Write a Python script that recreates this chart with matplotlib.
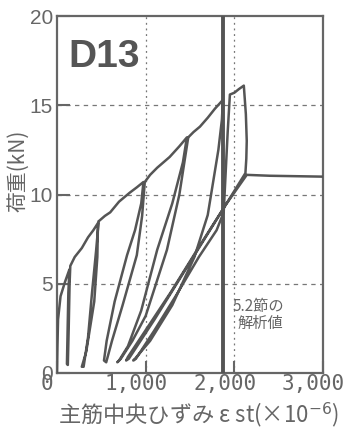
import matplotlib
matplotlib.use("Agg")
import matplotlib.pyplot as plt

# =====================================================
# DATA
# =====================================================
# initial loading, cycle 1 and cycle 2
strain_a = [0, 5, 12, 40, 90, 140,
            128, 118, 112, 122, 132, 142, 150,
            200, 280, 350, 410, 462,
            455, 420, 330, 280, 300, 350, 395, 440, 470]
load_a = [0, 1.5, 3.0, 4.3, 5.1, 5.8,
          4.5, 2.0, 0.5, 0.45, 2.5, 5.0, 6.0,
          6.5, 7.0, 7.6, 8.0, 8.4,
          6.5, 4.0, 1.2, 0.35, 0.35, 2.0, 4.5, 6.8, 8.5]

# cycles 3 and 4
strain_b = [470, 540, 600, 700, 820, 900, 975,
            950, 880, 790, 650, 560, 530,
            555, 620, 740, 900, 960, 990,
            1050, 1130, 1270, 1380, 1465,
            1420, 1300, 1130, 950, 800, 700, 680,
            720, 850, 1000, 1240, 1380, 1480]
load_b = [8.5, 8.8, 9.0, 9.6, 10.1, 10.4, 10.7,
          9.5, 8.0, 6.6, 4.0, 1.8, 0.7,
          0.6, 1.8, 3.8, 6.6, 8.8, 10.7,
          11.1, 11.5, 12.1, 12.7, 13.2,
          11.8, 9.5, 6.9, 3.5, 1.5, 0.7, 0.6,
          0.8, 1.8, 3.2, 6.9, 10.0, 13.2]

# cycle 5, last peak and the flat tail
strain_c = [1480, 1540, 1612, 1700, 1780, 1871,
            1860, 1820, 1700, 1550, 1300, 1050, 880, 860,
            890, 1100, 1350, 1600, 1800, 1880,
            1900, 1925, 1950, 2000, 2050, 2107,
            2130, 2140, 2135, 2125,
            1900, 1580, 1280, 1000, 800, 780,
            810, 1100, 1500, 1900, 2140,
            2400, 3000]
load_c = [13.2, 13.5, 13.8, 14.3, 14.8, 15.3,
          14.2, 12.5, 8.85, 6.5, 3.8, 1.8, 0.8, 0.7,
          0.8, 2.4, 4.4, 6.5, 8.0, 9.0,
          11.0, 13.5, 15.6, 15.7, 15.9, 16.1,
          14.5, 13.0, 12.0, 11.2,
          9.4, 6.9, 4.5, 2.4, 0.9, 0.7,
          0.8, 3.0, 6.2, 9.4, 11.1,
          11.05, 11.0]

yield_strain = 1870          # thick vertical line
grid_load = [5, 10, 15]
grid_strain = [1000, 2000]

x_ticks = [0, 1000, 2000, 3000]
x_tick_labels = ["0", "1,000", "2,000", "3,000"]
y_ticks = [0, 5, 10, 15, 20]
y_tick_labels = ["0", "5", "10", "15", "20"]

LINE = "#555555"
TEXT = "#666666"
JP = ["Noto Sans CJK JP", "DejaVu Sans"]

# =====================================================
# FIGURE
# =====================================================
fig = plt.figure(figsize=(3.52, 4.30), dpi=100)
ax = fig.add_axes([57 / 352, 1 - 373 / 430, 266 / 352, 357 / 430])
ax.set_xlim(0, 3000)
ax.set_ylim(0, 20)

for y in grid_load:
    ax.axhline(y, color="#777777", lw=0.9, dashes=(3.5, 3.5), zorder=1)
for x in grid_strain:
    ax.axvline(x, color="#777777", lw=0.9, dashes=(1.5, 3), zorder=1)

ax.axvline(yield_strain, color=LINE, lw=2.8, zorder=3)

for xs, ys in [(strain_a, load_a), (strain_b, load_b), (strain_c, load_c)]:
    ax.plot(xs, ys, color=LINE, lw=1.8, solid_joinstyle="round",
            solid_capstyle="round", zorder=4)

for s in ax.spines.values():
    s.set_color(TEXT)
    s.set_linewidth(1.6)

ax.set_yticks(y_ticks)
ax.set_yticklabels(y_tick_labels, fontsize=15, family="Liberation Sans",
                   color=TEXT)
ax.set_xticks(x_ticks)
ax.set_xticklabels([])
ax.tick_params(direction="in", length=9, width=1.5, color=TEXT, pad=3)

# x tick labels drawn by hand, they sit a little left of the ticks
for x, lab in zip(x_ticks, x_tick_labels):
    ax.text(x - 110, -0.003, lab, transform=ax.get_xaxis_transform(),
            ha="center", va="top", fontsize=15, family="DejaVu Sans Mono",
            color=TEXT)

ax.text(124, 17.15, "D13", fontsize=28, fontweight="bold",
        family="Liberation Sans", color=LINE, va="baseline", ha="left")

ax.text(1985, 3.75, "5.2節の", fontsize=11, family=JP, color=TEXT,
        ha="left", va="center")
ax.text(2040, 2.75, "解析値", fontsize=11, family=JP, color=TEXT,
        ha="left", va="center")

fig.text(18 / 352, 1 - 171 / 430, "荷重(kN)", rotation=90, fontsize=15,
         family=JP, color=TEXT, ha="center", va="center")
fig.text(198 / 352, 1 - 415 / 430, "主筋中央ひずみ ε st(×10$^{-6}$)",
         fontsize=16, family=JP, color=TEXT, ha="center", va="center")

fig.savefig("out.png", dpi=100)
